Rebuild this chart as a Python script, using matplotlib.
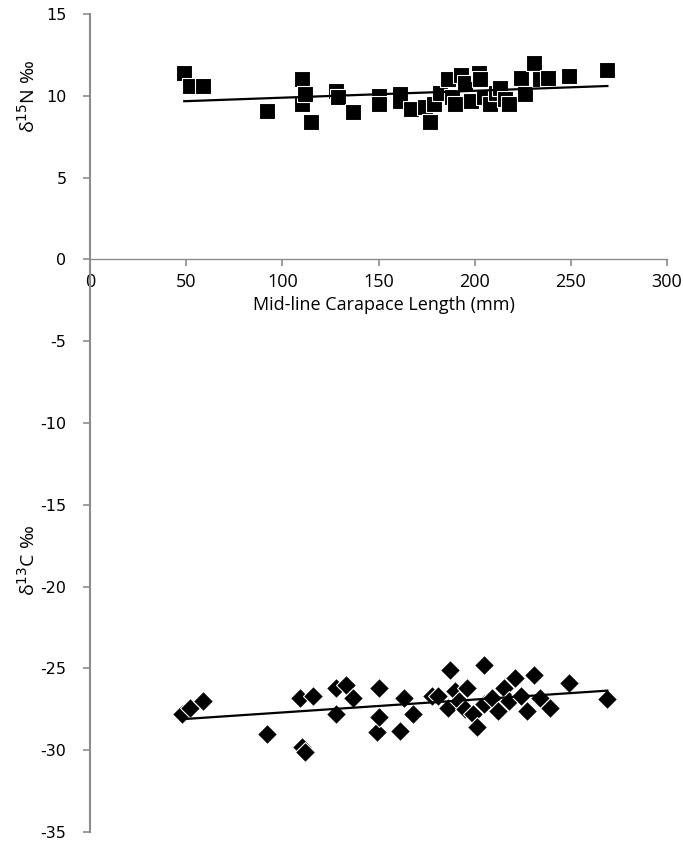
import numpy as np
import matplotlib
matplotlib.use("Agg")
import matplotlib.pyplot as plt

plt.rcParams['font.family'] = ['Open Sans', 'DejaVu Sans']

# δ15N data (squares)
n_length = [49, 52, 59, 92, 110, 110, 112, 115, 128, 129, 137, 150, 150, 161, 161,
            167, 174, 177, 179, 182, 186, 188, 190, 193, 195, 198, 202, 203, 205,
            208, 211, 213, 216, 218, 224, 226, 231, 234, 238, 249, 269]
n_value = [11.4, 10.6, 10.6, 9.1, 11.0, 9.5, 10.1, 8.4, 10.3, 9.9, 9.0, 10.0, 9.5, 10.1, 9.7,
           9.2, 9.3, 8.4, 9.5, 10.2, 11.0, 9.9, 9.5, 11.3, 10.8, 9.7, 11.4, 11.0, 9.9,
           9.5, 10.2, 10.5, 9.8, 9.5, 11.1, 10.1, 12.0, 11.0, 11.1, 11.2, 11.6]

# δ13C data (diamonds)
c_length = [48, 52, 59, 92, 109, 110, 112, 116, 128, 128, 133, 137, 149, 150, 150,
            161, 163, 168, 178, 181, 186, 187, 190, 192, 195, 196, 199, 201, 205,
            205, 209, 212, 215, 218, 221, 224, 227, 231, 234, 239, 249, 269]
c_value = [-27.8, -27.4, -27.0, -29.0, -26.8, -29.8, -30.1, -26.7, -26.2, -27.8, -26.0, -26.8,
           -28.9, -26.2, -28.0, -28.8, -26.8, -27.8, -26.7, -26.7, -27.4, -25.1, -26.4,
           -27.0, -27.5, -26.2, -27.8, -28.6, -27.2, -24.8, -26.8, -27.6, -26.2, -27.0,
           -25.6, -26.7, -27.6, -25.4, -26.8, -27.4, -25.9, -26.9]

x_ticks = [0, 50, 100, 150, 200, 250, 300]
y_ticks = [15, 10, 5, 0, -5, -10, -15, -20, -25, -30, -35]

fig = plt.figure(figsize=(6.83, 8.43), dpi=100)
ax = fig.add_axes([90/683, 11/843, 577/683, 818/843])

ax.plot(n_length, n_value, linestyle='none', marker='s', markersize=12,
        markerfacecolor='black', markeredgecolor='white', markeredgewidth=0.8, zorder=3)
ax.plot(c_length, c_value, linestyle='none', marker='D', markersize=10,
        markerfacecolor='black', markeredgecolor='white', markeredgewidth=0.8, zorder=3)

for xs, ys in ((n_length, n_value), (c_length, c_value)):
    k, b = np.polyfit(xs, ys, 1)
    xx = np.array([min(xs), max(xs)])
    ax.plot(xx, k * xx + b, color='black', linewidth=1.6, zorder=4)

ax.set_xlim(0, 300)
ax.set_ylim(-35, 15)
ax.set_xticks(x_ticks)
ax.set_yticks(y_ticks)
ax.set_xticklabels([str(v) for v in x_ticks])
ax.set_yticklabels([str(v) for v in y_ticks])

for s in ('top', 'right'):
    ax.spines[s].set_visible(False)
ax.spines['bottom'].set_position(('data', 0))
ax.spines['left'].set_color('#8c8c8c')
ax.spines['bottom'].set_color('#8c8c8c')
ax.spines['left'].set_linewidth(1.5)
ax.spines['bottom'].set_linewidth(1.0)
ax.tick_params(axis='both', colors='#8c8c8c', labelcolor='black', direction='out',
               length=5, width=1.2)
ax.tick_params(axis='x', pad=5, labelsize=13)
ax.tick_params(axis='y', pad=12, labelsize=11.5)
for lbl in ax.get_yticklabels():
    lbl.set_family(['DejaVu Sans'])

ax.text(153, -2.8, 'Mid-line Carapace Length (mm)',
        ha='center', va='center', fontsize=13)
ax.text(-62/577, 10, r'δ$^{15}$N ‰', transform=ax.get_yaxis_transform(),
        ha='center', va='center', rotation=90, fontsize=14)
ax.text(-62/577, -18.4, r'δ$^{13}$C ‰', transform=ax.get_yaxis_transform(),
        ha='center', va='center', rotation=90, fontsize=14)

fig.savefig('out.png', dpi=100)
